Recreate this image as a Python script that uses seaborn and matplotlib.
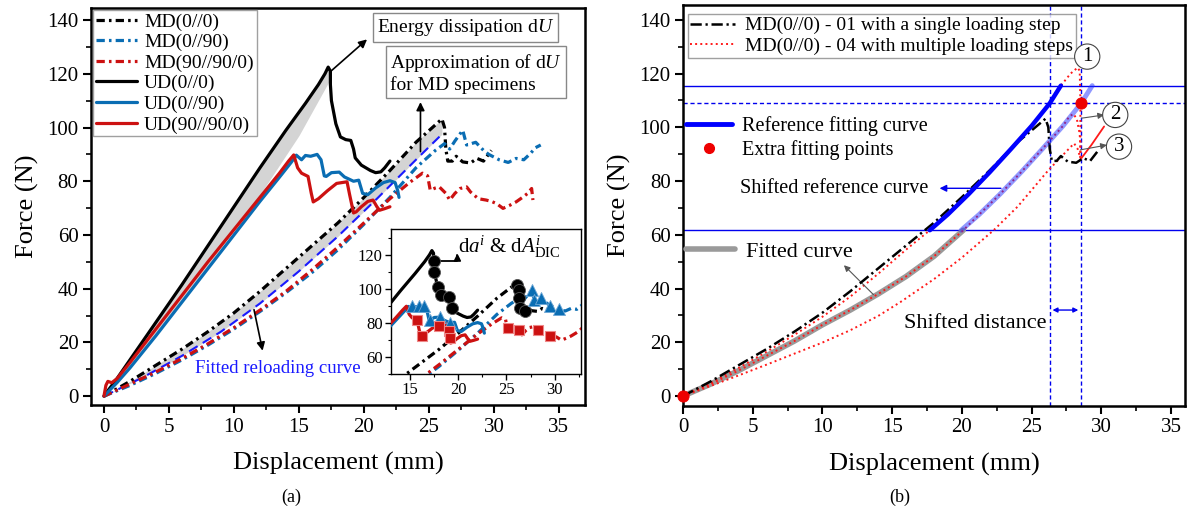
import numpy as np
import matplotlib
matplotlib.use("Agg")
import matplotlib.pyplot as plt
from matplotlib.lines import Line2D
from matplotlib.ticker import MultipleLocator
import seaborn as sns

# ---------------- data: panel (a) ----------------
# MD(0//0) – also the single-step specimen MD(0//0)-01 in panel (b)
md00_x = [0, 2, 4, 6, 8, 10, 12, 14, 16, 18, 20, 22, 24, 25.5, 26.0, 26.2, 26.3, 26.45,
          26.8, 27.1, 27.6, 28.2, 28.7, 29.2, 29.5, 29.8]
md00_y = [0, 5.5, 11.5, 17.5, 24, 31, 39, 47.5, 56, 64.5, 74, 84, 94.5, 101, 103.2, 100, 92, 87.5,
          87.5, 89.3, 87.2, 86.8, 88.5, 87.5, 89.5, 91.5]

md0090_x = [0, 2, 4, 6, 8, 10, 12, 14, 16, 18, 20, 22, 24, 25.5, 26.2, 26.6, 27.0, 27.6,
            27.9, 28.6, 29.2, 29.6, 30.4, 31.1, 31.7, 32.3, 32.8, 33.2, 33.6]
md0090_y = [0, 4, 8.5, 13.5, 19, 25, 31.5, 38.5, 46, 54.5, 64, 74, 85, 91.5, 94, 92, 95, 99,
            93.5, 94.5, 91.5, 90, 88, 87, 88.5, 88, 90.3, 92.5, 93.5]

md9090_x = [0, 2, 4, 6, 8, 10, 12, 14, 16, 18, 20, 22, 23.5, 24.5, 24.9, 25.1, 25.5, 25.8,
            26.3, 26.6, 27.0, 27.4, 27.9, 28.2, 28.8, 29.4, 29.8, 30.2, 30.7, 31.2, 31.7, 32.2,
            32.6, 32.9, 33.0]
md9090_y = [0, 4.5, 9, 14, 19.5, 25.5, 32, 39, 47, 55.5, 64.5, 73.5, 79.5, 83, 82, 76.7, 77.5, 77.9,
            75.5, 73, 75.5, 77.3, 77.9, 76, 73.5, 73, 72.5, 71.7, 69.9, 71, 72.3, 74,
            75.5, 77.3, 73]

ud00_x = [0, 0.3, 1, 2, 4, 6, 8, 10, 12, 14, 15.5, 16.5, 17.0, 17.25, 17.42, 17.42, 17.5,
          17.84, 18.19, 18.6, 18.99, 19.2, 19.33, 19.8, 20.5, 20.9, 21.3, 21.6, 22.0]
ud00_y = [0, 2, 6.5, 13.5, 27.5, 41.5, 56, 70.5, 85, 99, 109, 116, 120, 122.5, 121, 116, 110,
          101.4, 96.5, 95.5, 95.2, 92, 88.7, 86, 84, 83.2, 83.5, 85, 87.5]

ud0090_x = [0, 0.5, 1, 2, 4, 6, 8, 10, 12, 13.5, 14.4, 14.8, 15.2, 15.5, 15.9, 16.4, 16.7,
            16.95, 17.1, 17.5, 18.1, 18.5, 19.2, 19.6, 19.9, 20.3, 20.9, 21.5, 22.0, 22.4,
            22.6, 22.7]
ud0090_y = [0, 2.5, 5, 10.5, 22.5, 35, 47.5, 60, 72.5, 81.5, 87, 89.7, 88, 89.6, 89.3, 90, 88,
            82, 81.8, 83.2, 83.4, 81.6, 80, 80.4, 75.5, 75, 77.5, 79.5, 80.2, 79.5,
            76.5, 74]

ud9090_x = [0, 0.15, 0.3, 0.6, 1, 2, 4, 6, 8, 10, 12, 13.5, 14.2, 14.6, 14.9, 15.2, 15.7,
            15.95, 16.1, 16.5, 17.2, 17.9, 18.7, 18.9, 19.2, 19.4, 19.8, 20.3, 20.7, 21.0,
            21.2, 21.6, 22.0]
ud9090_y = [0, 4, 5.5, 5, 6.5, 12.5, 25, 37.5, 50, 62, 74, 83, 87.5, 89.8, 85, 83, 81.8,
            75.5, 72.3, 73.5, 76.5, 79.2, 79.8, 75, 68.2, 68.6, 70.5, 72.5, 73, 70.5,
            69.2, 69.8, 70.5]

# lower bound of the dissipated-energy band for UD(0//0)
ud00_lower_x = [0, 4, 8, 12, 15, 17.35]
ud00_lower_y = [0, 23, 48.5, 75, 97, 117.5]

# fitted reloading curve of the MD specimens
fit_reload_x = [0, 3, 6, 9, 12, 15, 18, 21, 24, 26]
fit_reload_y = [0, 7, 15, 24, 34.5, 46.5, 59.5, 73.5, 88, 97.5]

# crack-growth increments (inset markers)
circ_x = [17.42, 17.42, 17.84, 18.19, 18.99, 19.33, 26.09, 26.26, 26.3, 26.43, 26.95]
circ_y = [116.1, 110.2, 101.4, 96.5, 95.2, 88.7, 102.4, 99.5, 94.6, 88.7, 87.3]
tri_x = [15.18, 15.87, 16.38, 17.08, 18.12, 19.16, 27.6, 27.85, 28.6, 29.55, 30.42]
tri_y = [90.1, 89.7, 90.1, 81.9, 83.4, 79.9, 99.1, 93.3, 94.5, 90.1, 88.1]
sq_x = [15.7, 16.2, 17.94, 18.98, 19.16, 25.12, 26.26, 28.23, 29.48]
sq_y = [81.5, 72.5, 78.4, 75.0, 71.1, 77.0, 76.0, 76.0, 72.5]

# ---------------- data: panel (b) ----------------
# MD(0//0)-04, three loading steps
step1_x = [0, 2, 4, 6, 8, 10, 12, 14, 16, 17.7, 19.0, 20.5, 22.0, 23.5, 25.0, 26.3, 27.1,
           27.8, 28.3, 28.45, 28.5, 28.5, 28.5]
step1_y = [0, 5, 10.5, 16.5, 22.8, 29.5, 37, 45.5, 54.5, 61.7, 67.6, 75.2, 83.3, 91.8, 100.5,
           108.9, 115.5, 120, 122.2, 121, 110, 100, 88]
step2_x = [0, 2, 4, 6, 8, 10, 12, 14, 16, 18, 20.1, 21.25, 22.75, 24.25, 25.75, 27.25, 27.7,
           28.0, 28.25, 28.45, 28.5, 28.5]
step2_y = [0, 4.5, 9.5, 15, 20.5, 26.5, 32, 38, 44.5, 52, 61.7, 67.6, 75.2, 83.3, 91.8, 100.5,
           104, 105, 103, 97.5, 92, 88]
step3_x = [0, 2, 4, 6, 8, 10, 12, 14, 15.6, 18, 20, 22.3, 24, 26.2, 27.6, 28.05, 28.3, 28.5]
step3_y = [0, 3.8, 7.7, 11.7, 15.8, 19.9, 24.5, 29.8, 35, 43.5, 51.5, 61.8, 70.5, 84, 91.6, 94,
           92, 88.5]
step3_reload_x = [28.5, 29.3, 30.2]
step3_reload_y = [88, 93.5, 100.3]

# fitted curve (lower part) and reference fitting curve
fitted_x = [0, 2, 4, 6, 8, 10, 12, 14, 16, 18, 20.1]
fitted_y = [0, 4.5, 9.5, 15, 20.5, 26.5, 32, 38, 44.5, 52, 61.7]
ref_x = [17.7, 19.0, 20.5, 22.0, 23.5, 25.0, 26.3, 27.1]
ref_y = [61.7, 67.6, 75.2, 83.3, 91.8, 100.5, 108.9, 115.5]

ref_force_low, ref_force_high = 61.7, 115.5
extra_force = 109.2
ref_disp, extra_disp = 26.3, 28.55
shift = extra_disp - ref_disp
extra_pts_x = [0, extra_disp]
extra_pts_y = [0, extra_force]

# ---------------- style ----------------
sns.set_theme(style="ticks")
plt.rcParams.update({
    "font.family": ["Liberation Serif", "DejaVu Serif"],
    "mathtext.fontset": "custom",
    "mathtext.rm": "Liberation Serif",
    "mathtext.it": "Liberation Serif:italic",
    "mathtext.bf": "Liberation Serif:bold",
    "axes.edgecolor": "black",
    "axes.linewidth": 1.8,
    "xtick.color": "black",
    "ytick.color": "black",
    "text.color": "black",
    "axes.labelcolor": "black",
})

BLACK = "black"
BLUE = "#0a6db3"
RED = "#cc1111"
FITBLUE = "#1a1aff"
GRAYFILL = "#d4d4d4"

DASHDOT_A = (0, (2.6, 1.3, 0.8, 1.3))
DASHDOT_B = (0, (4.5, 1.5, 0.9, 1.5))


def line(ax, x, y, **kw):
    sns.lineplot(x=x, y=y, ax=ax, sort=False, estimator=None, legend=False, **kw)


def style_axes(ax, xmaj, xmin, ymaj, ymin, size, lw=1.8):
    ax.xaxis.set_major_locator(MultipleLocator(xmaj))
    ax.xaxis.set_minor_locator(MultipleLocator(xmin))
    ax.yaxis.set_major_locator(MultipleLocator(ymaj))
    ax.yaxis.set_minor_locator(MultipleLocator(ymin))
    ax.tick_params(which="major", direction="out", length=6, width=1.5, labelsize=size, pad=3)
    ax.tick_params(which="minor", direction="out", length=3.5, width=1.2)
    for s in ax.spines.values():
        s.set_linewidth(lw)
        s.set_color("black")


fig = plt.figure(figsize=(11.92, 5.16), dpi=100)
axA = fig.add_axes([0.0763, 0.2151, 0.4144, 0.7694])
axB = fig.add_axes([0.5730, 0.2132, 0.4211, 0.7771])

# ================= panel (a) =================
ax = axA
pk = int(np.argmax(ud00_y))
g = np.linspace(0, ud00_lower_x[-1], 300)
up = np.interp(g, ud00_x[:pk + 1], ud00_y[:pk + 1])
lo = np.interp(g, ud00_lower_x, ud00_lower_y)
ax.fill_between(g, np.minimum(lo, up), up, color=GRAYFILL, lw=0, zorder=1)

pk = int(np.argmax(md00_y))
g = np.linspace(0, md00_x[pk], 300)
up = np.interp(g, md00_x[:pk + 1], md00_y[:pk + 1])
lo = np.interp(g, fit_reload_x, fit_reload_y)
ax.fill_between(g, np.minimum(lo, up), up, color=GRAYFILL, lw=0, zorder=1)

line(ax, fit_reload_x, fit_reload_y, color=FITBLUE, lw=1.5, linestyle=(0, (4.8, 2.9)), zorder=3)

series_a = [
    ("MD(0//0)", md00_x, md00_y, BLACK, DASHDOT_A),
    ("MD(0//90)", md0090_x, md0090_y, BLUE, DASHDOT_A),
    ("MD(90//90/0)", md9090_x, md9090_y, RED, DASHDOT_A),
    ("UD(0//0)", ud00_x, ud00_y, BLACK, "-"),
    ("UD(0//90)", ud0090_x, ud0090_y, BLUE, "-"),
    ("UD(90//90/0)", ud9090_x, ud9090_y, RED, "-"),
]
handles = []
for name, xs, ys, c, ls in series_a:
    line(ax, xs, ys, color=c, lw=2.3, linestyle=ls, zorder=4)
    handles.append(Line2D([], [], color=c, lw=2.3, linestyle=ls, label=name))

ax.set_xlim(-1, 37)
ax.set_ylim(-3.3, 144.5)
style_axes(ax, 5, 2.5, 20, 10, 15)
ax.set_xlabel("Displacement (mm)", fontsize=19, labelpad=11)
ax.set_ylabel("Force (N)", fontsize=19, labelpad=6)

leg = ax.legend(handles=handles, loc="upper left", bbox_to_anchor=(0.005, 0.995),
                borderaxespad=0, fontsize=14, handlelength=2.1, handletextpad=0.35,
                labelspacing=0.15, borderpad=0.15, frameon=True, fancybox=False)
leg.get_frame().set_edgecolor("#888888")
leg.get_frame().set_linewidth(1.0)

box_kw = dict(boxstyle="square,pad=0.2", fc="white", ec="#888888", lw=1.0)
ax.text(20.98, 137.2, r"Energy dissipation d$U$", fontsize=14, ha="left", va="center",
        bbox=box_kw, zorder=6)
ax.text(22.0, 120.3, "Approximation of d$U$\nfor MD specimens", fontsize=14, ha="left",
        va="center", linespacing=1.1, bbox=box_kw, zorder=6)
arrow_kw = dict(arrowstyle="-|>", color="black", lw=1.2, mutation_scale=12)
ax.annotate("", xy=(20.4, 133.5), xytext=(17.25, 120.1), arrowprops=arrow_kw, zorder=7)
ax.annotate("", xy=(24.35, 110.5), xytext=(24.35, 90.0), arrowprops=arrow_kw, zorder=7)
ax.annotate("", xy=(12.25, 15.9), xytext=(11.5, 33.2), arrowprops=arrow_kw, zorder=7)
ax.text(7.0, 10.4, "Fitted reloading curve", fontsize=13.5, color=FITBLUE, ha="left",
        va="center", zorder=6)

# inset
ins = fig.add_axes([0.328, 0.2752, 0.1591, 0.2804])
ins.set_facecolor("white")
for name, xs, ys, c, ls in series_a:
    line(ins, xs, ys, color=c, lw=2.3, linestyle=ls, zorder=3)
sns.scatterplot(x=circ_x, y=circ_y, ax=ins, marker="o", s=75, color=BLACK,
                edgecolor="#555555", linewidth=0.6, zorder=5, legend=False)
sns.scatterplot(x=tri_x, y=tri_y, ax=ins, marker="^", s=75, color=BLUE,
                edgecolor="#6fa8d6", linewidth=0.6, zorder=5, legend=False)
sns.scatterplot(x=sq_x, y=sq_y, ax=ins, marker="s", s=60, color=RED,
                edgecolor="#ee8888", linewidth=0.8, zorder=5, legend=False)
ins.set_xlim(13, 32.7)
ins.set_ylim(50, 135)
ins.set_xticks([15, 20, 25, 30])
ins.set_yticks([60, 80, 100, 120])
ins.xaxis.set_minor_locator(MultipleLocator(2.5))
ins.yaxis.set_minor_locator(MultipleLocator(10))
ins.tick_params(which="major", direction="out", length=4, width=1.0, labelsize=12, pad=2)
ins.tick_params(which="minor", direction="out", length=2.5, width=0.8)
for s in ins.spines.values():
    s.set_linewidth(1.0)
ins.text(20.0, 124.5, r"d$a^{i}$ & d$A^{i}_{\mathrm{DIC}}$", fontsize=15, ha="left",
         va="center")
ins.annotate("", xy=(19.9, 122.5), xytext=(17.8, 116.5),
             arrowprops=dict(arrowstyle="-|>", color="black", lw=1.3, mutation_scale=10,
                             connectionstyle="angle,angleA=0,angleB=90,rad=0"))

fig.text(291 / 1192, 1 - 497 / 516, "(a)", fontsize=13, ha="center", va="center")

# ================= panel (b) =================
ax = axB
for yv, ls in [(ref_force_high, "-"), (extra_force, (0, (3, 2))), (ref_force_low, "-")]:
    ax.axhline(yv, color="#0000ee", lw=1.0, linestyle=ls, zorder=1)
for xv in [ref_disp, extra_disp]:
    ax.axvline(xv, color="#0000ee", lw=1.0, linestyle=(0, (3, 2)), zorder=1)

line(ax, fitted_x, fitted_y, color="#9a9a9a", lw=4, zorder=2)
line(ax, step1_x, step1_y, color="#ff1a1a", lw=1.4, linestyle=":", zorder=3)
line(ax, step2_x, step2_y, color="#ff1a1a", lw=1.4, linestyle=":", zorder=3)
line(ax, step3_x, step3_y, color="#ff1a1a", lw=1.4, linestyle=":", zorder=3)
line(ax, step3_reload_x, step3_reload_y, color="#ff1a1a", lw=1.3, zorder=3)
line(ax, md00_x, md00_y, color=BLACK, lw=1.8, linestyle=DASHDOT_B, zorder=4)
line(ax, ref_x, ref_y, color="#0000ff", lw=3.2, zorder=5)
line(ax, [v + shift for v in ref_x], ref_y, color="#2233ff", lw=3.5, alpha=0.5, zorder=5)
sns.scatterplot(x=extra_pts_x, y=extra_pts_y, ax=ax, color="#ee0000", s=65,
                edgecolor="#ee0000", zorder=8, legend=False, clip_on=False)

ax.set_xlim(0, 36)
ax.set_ylim(-3.7, 145.5)
style_axes(ax, 5, 2.5, 20, 10, 15)
ax.set_xlabel("Displacement (mm)", fontsize=19, labelpad=11)
ax.set_ylabel("Force (N)", fontsize=19, labelpad=6)

h1 = [Line2D([], [], color=BLACK, lw=1.8, linestyle=DASHDOT_B,
             label="MD(0//0) - 01 with a single loading step"),
      Line2D([], [], color="#ff1a1a", lw=1.4, linestyle=":",
             label="MD(0//0) - 04 with multiple loading steps")]
lg1 = ax.legend(handles=h1, loc="upper left", bbox_to_anchor=(0.009, 0.978), borderaxespad=0,
                fontsize=14, handlelength=2.3, handletextpad=0.5, labelspacing=0.15,
                borderpad=0.15, frameon=True, fancybox=False)
lg1.get_frame().set_edgecolor("#888888")
lg1.get_frame().set_linewidth(1.0)
ax.add_artist(lg1)

h2 = [Line2D([], [], color="#0000ff", lw=3.5, label="Reference fitting curve"),
      Line2D([], [], color="#ee0000", marker="o", ls="none", ms=7, label="Extra fitting points")]
lg2 = ax.legend(handles=h2, loc="upper left", bbox_to_anchor=(0.0, 0.73), borderaxespad=0,
                fontsize=14.5, handlelength=2.3, handletextpad=0.5, labelspacing=0.2,
                borderpad=0.15, frameon=False)
ax.add_artist(lg2)

h3 = [Line2D([], [], color="#9a9a9a", lw=4, label="Fitted curve")]
ax.legend(handles=h3, loc="upper left", bbox_to_anchor=(0.0, 0.418), borderaxespad=0,
          fontsize=16, handlelength=2.2, handletextpad=0.5, borderpad=0.15, frameon=False)

ax.text(4.1, 77.1, "Shifted reference curve", fontsize=14.5, ha="left", va="center")
ax.annotate("", xy=(18.2, 77.3), xytext=(23.0, 77.3),
            arrowprops=dict(arrowstyle="-|>", color="#0000ee", lw=1.0, mutation_scale=10))
ax.text(26.1, 27.0, "Shifted distance", fontsize=16, ha="right", va="center")
ax.annotate("", xy=(extra_disp, 32), xytext=(ref_disp, 32),
            arrowprops=dict(arrowstyle="<|-|>", color="#0000ee", lw=1.0, mutation_scale=7))
ax.annotate("", xy=(11.4, 49.4), xytext=(13.8, 37.0),
            arrowprops=dict(arrowstyle="-|>", color="#555555", lw=0.8, mutation_scale=9))

circ_kw = dict(boxstyle="circle,pad=0.15", fc="white", ec="#444444", lw=0.8)
ax.text(28.99, 126.3, "1", fontsize=15, ha="center", va="center", bbox=circ_kw, zorder=9)
ax.text(31.0, 104.6, "2", fontsize=15, ha="center", va="center", bbox=circ_kw, zorder=9)
ax.text(31.27, 92.8, "3", fontsize=15, ha="center", va="center", bbox=circ_kw, zorder=9)
small_arrow = dict(arrowstyle="-|>", color="#555555", lw=0.8, mutation_scale=9,
                   shrinkA=0, shrinkB=0)
ax.annotate("", xy=(30.2, 104.6), xytext=(28.6, 103.4), arrowprops=small_arrow)
ax.annotate("", xy=(30.4, 93.4), xytext=(28.5, 91.6), arrowprops=small_arrow)

fig.text(900 / 1192, 1 - 497 / 516, "(b)", fontsize=13, ha="center", va="center")

fig.savefig("out.png", dpi=100)
